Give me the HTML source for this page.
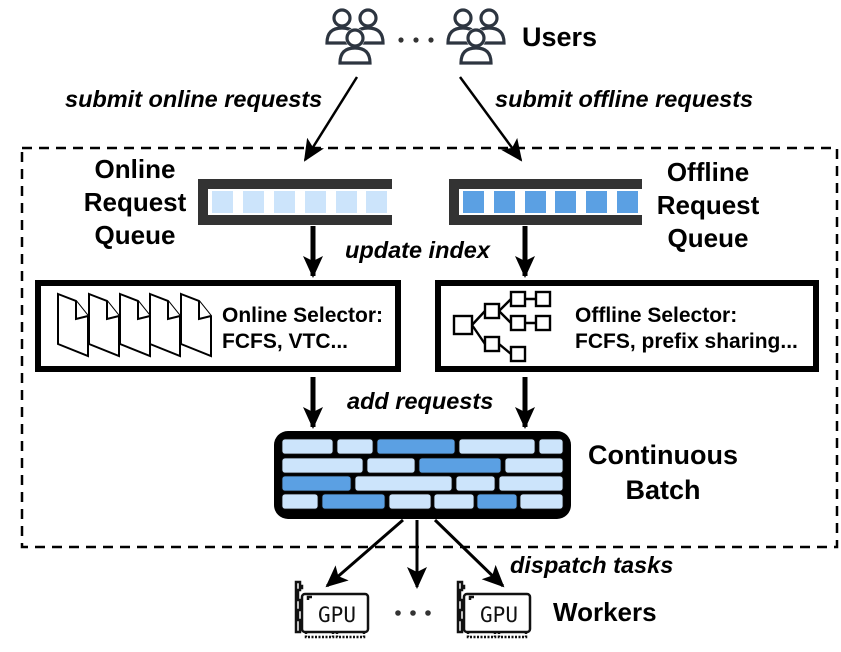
<!DOCTYPE html>
<html><head><meta charset="utf-8"><style>
html,body{margin:0;padding:0;background:#fff;}
svg{display:block;}
text{font-family:"Liberation Sans",Arial,sans-serif;font-weight:bold;fill:#000;}
.it{font-style:italic;}
</style></head><body>
<svg width="841" height="652" viewBox="0 0 841 652" xmlns="http://www.w3.org/2000/svg">
<defs>
<marker id="ahb" markerWidth="22" markerHeight="20" refX="20" refY="10" orient="auto" markerUnits="userSpaceOnUse">
<path d="M0,0 L22,10 L0,20 L5,10 z" fill="#000"/></marker>
<g id="user" fill="none" stroke="#2d3540" stroke-width="3.2" stroke-linecap="round">
<circle cx="0" cy="0" r="8"/>
<path d="M-15,25 Q-15,10 0,10 Q15,10 15,25 Z"/>
</g>
<g id="grp">
<g fill="#fff"><use href="#user" x="-13" y="-8"/><use href="#user" x="13" y="-8"/></g>
<g><circle cx="0" cy="12" r="10" fill="#fff"/><path d="M-19,38 Q-19,20 0,20 Q19,20 19,38 Z" fill="#fff"/></g>
<use href="#user" x="0" y="12"/>
</g>
<g id="gpu" fill="none" stroke="#111" stroke-width="2.5">
<path d="M8,2 h4 v8 h-2 v10 h2 v10 h-2 v10 h2 v12 h-4 z"/>
<path d="M12,8 h2 v-2 h-2"/>
<rect x="14" y="14" width="66" height="38" rx="3"/>
<path d="M20,20 v-3 h4"/>
<path d="M18,52 v5 h27 v-5 M49,52 v5 h27 v-5" stroke-dasharray="2,1.5"/>
<text x="49" y="42" text-anchor="middle" style="font-family:'DejaVu Sans Mono','Liberation Mono',monospace;font-weight:normal;font-size:21px;fill:#111;stroke:none">GPU</text>
</g>
<g id="doc" fill="#fff" stroke="#000" stroke-width="2">
<path d="M0,0 L18,7 L30,22 L30,62 L0,50 Z"/><path d="M18,7 L18,25 L30,22"/>
</g>
</defs>

<use href="#grp" x="355" y="26"/>
<circle cx="401" cy="40" r="2.6" fill="#333"/><circle cx="416" cy="40" r="2.6" fill="#333"/><circle cx="431" cy="40" r="2.6" fill="#333"/>
<use href="#grp" x="476" y="26"/>
<text x="522" y="46" font-size="27">Users</text>

<line x1="357" y1="77" x2="305" y2="160" stroke="#000" stroke-width="2.5" marker-end="url(#ahb)"/>
<line x1="460" y1="77" x2="521" y2="160" stroke="#000" stroke-width="2.5" marker-end="url(#ahb)"/>
<text x="65" y="107" font-size="23.5" class="it">submit online requests</text>
<text x="495" y="107" font-size="23.5" class="it">submit offline requests</text>

<rect x="22" y="148" width="815" height="399" fill="none" stroke="#000" stroke-width="2.5" stroke-dasharray="10,7"/>

<g font-size="26" text-anchor="middle">
<text x="135" y="178">Online</text><text x="135" y="211">Request</text><text x="135" y="244">Queue</text>
<text x="708" y="181">Offline</text><text x="708" y="214">Request</text><text x="708" y="247">Queue</text>
</g>

<path d="M392,184 H203 V220 H392" fill="none" stroke="#333" stroke-width="10"/>
<g fill="#cce4fb"><rect x="212" y="191" width="21" height="22"/><rect x="243" y="191" width="21" height="22"/><rect x="274" y="191" width="21" height="22"/><rect x="305" y="191" width="21" height="22"/><rect x="336" y="191" width="21" height="22"/><rect x="366" y="191" width="21" height="22"/></g>
<path d="M642,184 H454 V220 H642" fill="none" stroke="#333" stroke-width="10"/>
<g fill="#5ba0e3"><rect x="463" y="191" width="21" height="22"/><rect x="494" y="191" width="21" height="22"/><rect x="525" y="191" width="21" height="22"/><rect x="555" y="191" width="21" height="22"/><rect x="586" y="191" width="21" height="22"/><rect x="617" y="191" width="21" height="22"/></g>

<line x1="313" y1="226" x2="313" y2="276" stroke="#000" stroke-width="5" marker-end="url(#ahb)"/>
<line x1="525" y1="226" x2="525" y2="276" stroke="#000" stroke-width="5" marker-end="url(#ahb)"/>
<text x="345" y="258" font-size="23.5" class="it">update index</text>

<rect x="38" y="283" width="360" height="86" fill="#fff" stroke="#000" stroke-width="6"/>
<use href="#doc" x="58" y="294"/><use href="#doc" x="89" y="294"/><use href="#doc" x="120" y="294"/><use href="#doc" x="150" y="294"/><use href="#doc" x="181" y="294"/>
<text x="222" y="322" font-size="21">Online Selector:</text>
<text x="222" y="348" font-size="21">FCFS, VTC...</text>

<rect x="438" y="283" width="378" height="86" fill="#fff" stroke="#000" stroke-width="6"/>
<g fill="#fff" stroke="#000" stroke-width="2.4">
<path d="M472,325 L485,311 M472,325 L485,344 M499,311 L511,299 M499,311 L511,323 M525,299 L536,299 M525,323 L536,323 M499,344 L511,354"/>
<rect x="454" y="316" width="18" height="18"/>
<rect x="485" y="304" width="14" height="14"/>
<rect x="485" y="337" width="14" height="14"/>
<rect x="511" y="292" width="14" height="14"/>
<rect x="511" y="316" width="14" height="14"/>
<rect x="536" y="292" width="14" height="14"/>
<rect x="536" y="316" width="14" height="14"/>
<rect x="511" y="347" width="14" height="14"/>
</g>
<text x="575" y="322" font-size="21">Offline Selector:</text>
<text x="575" y="348" font-size="21">FCFS, prefix sharing...</text>

<line x1="313" y1="377" x2="313" y2="427" stroke="#000" stroke-width="5" marker-end="url(#ahb)"/>
<line x1="525" y1="377" x2="525" y2="427" stroke="#000" stroke-width="5" marker-end="url(#ahb)"/>
<text x="347" y="409" font-size="23.5" class="it">add requests</text>

<rect x="274" y="431" width="297" height="88" rx="14" fill="#000"/>
<g stroke="#111" stroke-width="0.8">
<g fill="#cce4fb">
<rect x="282" y="439" width="51" height="15" rx="3"/><rect x="337" y="439" width="36" height="15" rx="3"/><rect x="459" y="439" width="76" height="15" rx="3"/><rect x="539" y="439" width="24" height="15" rx="3"/>
<rect x="282" y="458" width="81" height="15" rx="3"/><rect x="367" y="458" width="48" height="15" rx="3"/><rect x="505" y="458" width="58" height="15" rx="3"/>
<rect x="355" y="476" width="97" height="15" rx="3"/><rect x="456" y="476" width="39" height="15" rx="3"/><rect x="499" y="476" width="64" height="15" rx="3"/>
<rect x="282" y="494" width="36" height="15" rx="3"/><rect x="389" y="494" width="42" height="15" rx="3"/><rect x="434" y="494" width="40" height="15" rx="3"/><rect x="520" y="494" width="43" height="15" rx="3"/>
</g>
<g fill="#5ba0e3">
<rect x="377" y="439" width="78" height="15" rx="3"/><rect x="419" y="458" width="82" height="15" rx="3"/><rect x="282" y="476" width="69" height="15" rx="3"/><rect x="322" y="494" width="63" height="15" rx="3"/><rect x="477" y="494" width="40" height="15" rx="3"/>
</g></g>
<text x="663" y="464" font-size="27" text-anchor="middle">Continuous</text>
<text x="663" y="499" font-size="27" text-anchor="middle">Batch</text>

<line x1="403" y1="520" x2="327" y2="586" stroke="#000" stroke-width="3" marker-end="url(#ahb)"/>
<line x1="417" y1="520" x2="417" y2="587" stroke="#000" stroke-width="3" marker-end="url(#ahb)"/>
<line x1="435" y1="520" x2="503" y2="586" stroke="#000" stroke-width="3" marker-end="url(#ahb)"/>
<text x="510" y="573" font-size="23.5" class="it">dispatch tasks</text>

<use href="#gpu" x="288" y="580"/>
<circle cx="398" cy="613" r="2.8" fill="#333"/><circle cx="413" cy="613" r="2.8" fill="#333"/><circle cx="428" cy="613" r="2.8" fill="#333"/>
<use href="#gpu" x="450" y="580"/>
<text x="553" y="621" font-size="26">Workers</text>
</svg>
</body></html>
